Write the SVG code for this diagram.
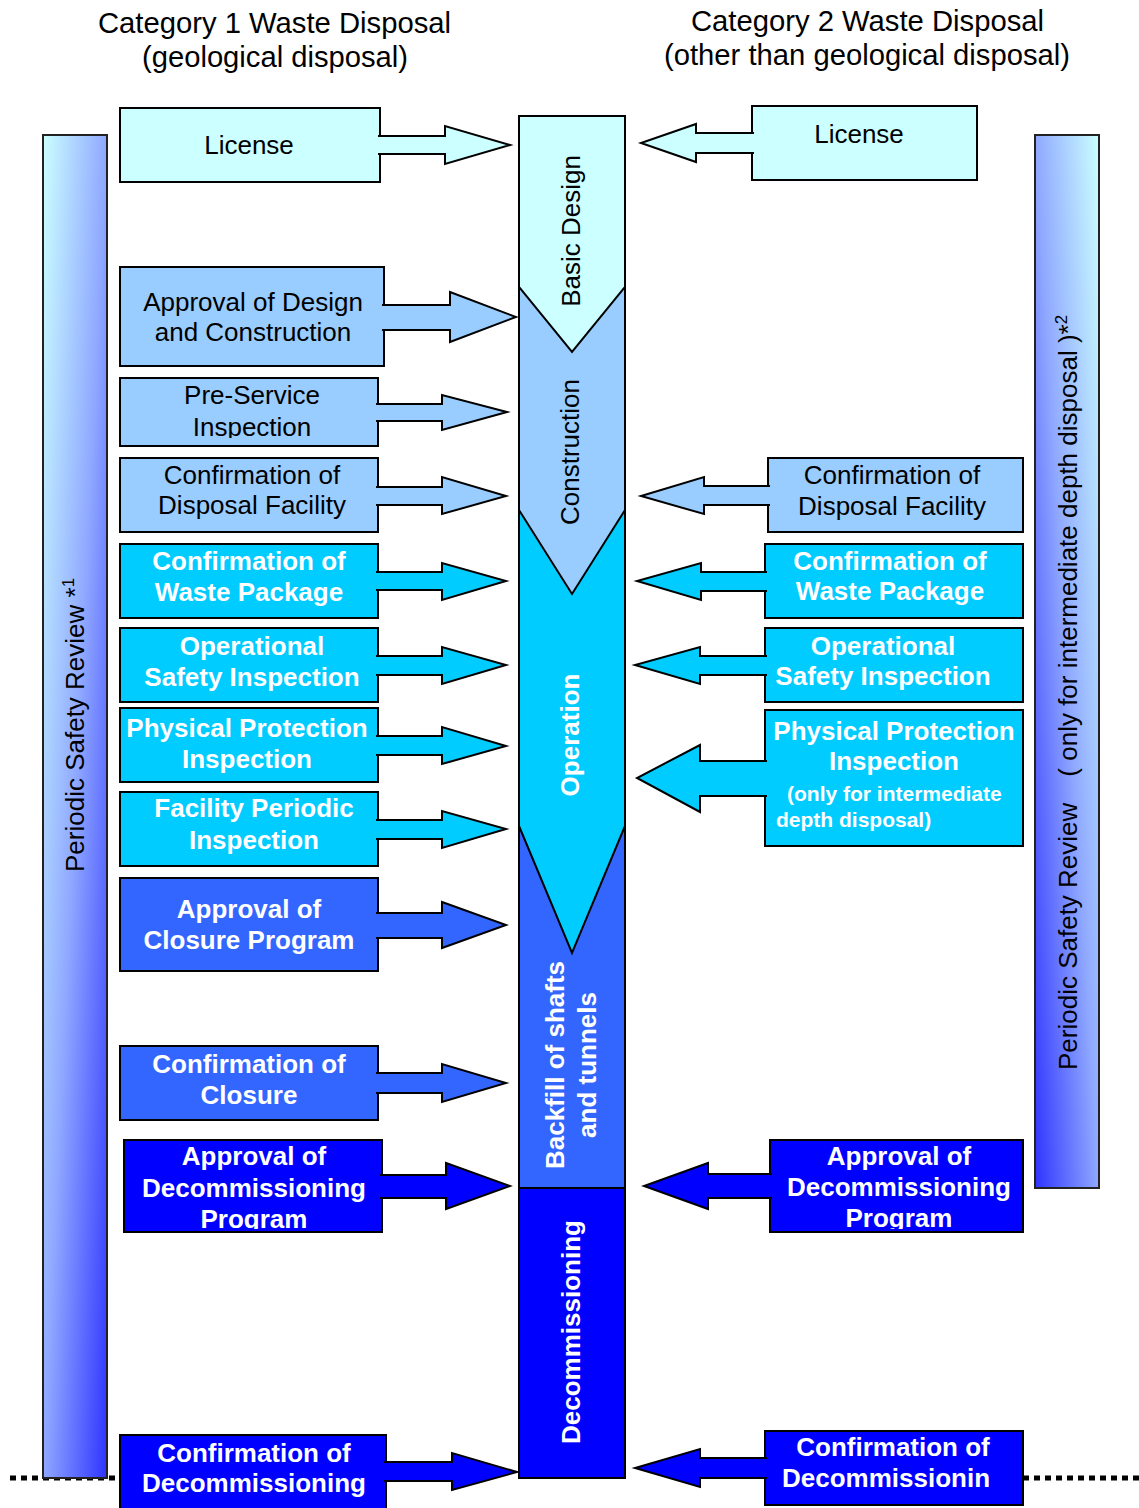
<svg xmlns="http://www.w3.org/2000/svg" width="1139" height="1508" viewBox="0 0 1139 1508">
<defs>
<style>
.bx{stroke:#000;stroke-width:2}
.c1{fill:#ccffff}.c2{fill:#99ccff}.c3{fill:#00ccff}.c4{fill:#3366ff}.c5{fill:#0000ff}
.t{font-family:"Liberation Sans",Arial,sans-serif;font-size:26px;text-anchor:middle;fill:#000}
.tb{font-weight:bold;fill:#fff}
.ttl{font-family:"Liberation Sans",Arial,sans-serif;font-size:30px;text-anchor:middle;fill:#000}
.side{stroke:#222;stroke-width:2}
.arr{stroke:#000;stroke-width:2;stroke-linejoin:miter}
.dot{stroke:#000;stroke-width:5;stroke-dasharray:6 5;fill:none}
</style>
<linearGradient id="gl" x1="0" y1="0" x2="1" y2="1">
<stop offset="0" stop-color="#ccffff"/>
<stop offset="0.5" stop-color="#8fa8ff"/>
<stop offset="1" stop-color="#2f33ff"/>
</linearGradient>
<linearGradient id="gr" x1="1" y1="0" x2="0" y2="1">
<stop offset="0" stop-color="#ccffff"/>
<stop offset="0.5" stop-color="#8fa8ff"/>
<stop offset="1" stop-color="#2f33ff"/>
</linearGradient>
<clipPath id="clipL3"><rect x="120" y="378" width="258" height="60"/></clipPath>
<clipPath id="clipL11"><rect x="124" y="1140" width="258" height="89"/></clipPath>
<clipPath id="clipR6"><rect x="770" y="1140" width="253" height="89"/></clipPath>
</defs>
<rect width="1139" height="1508" fill="#fff"/>

<g id="titles">
<text class="ttl" x="274.5" y="33" textLength="353" lengthAdjust="spacingAndGlyphs">Category 1 Waste Disposal</text>
<text class="ttl" x="275" y="67" textLength="266" lengthAdjust="spacingAndGlyphs">(geological disposal)</text>
<text class="ttl" x="867.5" y="31" textLength="353" lengthAdjust="spacingAndGlyphs">Category 2 Waste Disposal</text>
<text class="ttl" x="867" y="65" textLength="406" lengthAdjust="spacingAndGlyphs">(other than geological disposal)</text>
</g>

<g id="dotted-lines">
<line class="dot" x1="10" y1="1478" x2="120" y2="1478"/>
<line class="dot" x1="1023" y1="1478" x2="1139" y2="1478"/>
</g>

<g id="review-left">
<rect class="side" x="43" y="135" width="64" height="1343" fill="url(#gl)"/>
<text class="t" style="text-anchor:start" transform="translate(84,872) rotate(-90)">Periodic Safety Review *<tspan dy="-10" font-size="17">1</tspan></text>
</g>
<g id="review-right">
<rect class="side" x="1035" y="135" width="64" height="1053" fill="url(#gr)"/>
<text class="t" style="text-anchor:start" transform="translate(1077,1070) rotate(-90)">Periodic Safety Review<tspan dx="26">( only for intermediate depth disposal )*</tspan><tspan dy="-10" font-size="17">2</tspan></text>
</g>

<g id="stages">
<rect class="bx c5" x="519" y="1188" width="106" height="290"/>
<rect class="bx c4" x="519" y="820" width="106" height="368"/>
<polygon class="bx c3" points="519,500 625,500 625,826 572,953 519,826"/>
<polygon class="bx c2" points="519,280 625,280 625,510 572,594 519,510"/>
<polygon class="bx c1" points="519,116 625,116 625,287 572,352 519,287"/>
<text class="t" transform="translate(580,231) rotate(-90)">Basic Design</text>
<text class="t" transform="translate(579,452) rotate(-90)">Construction</text>
<text class="t tb" transform="translate(579,735) rotate(-90)">Operation</text>
<text class="t tb" transform="translate(564,1065) rotate(-90)">Backfill of shafts</text>
<text class="t tb" transform="translate(596,1065) rotate(-90)">and tunnels</text>
<text class="t tb" transform="translate(580,1332) rotate(-90)">Decommissioning</text>
</g>

<g id="L1"><rect class="bx c1" x="120" y="108" width="260" height="74"/><text class="t" x="249" y="154">License</text></g>
<g id="L2"><rect class="bx c2" x="120" y="267" width="264" height="99"/><text class="t" x="253" y="311">Approval of Design</text><text class="t" x="253" y="341">and Construction</text></g>
<g id="L3"><rect class="bx c2" x="120" y="378" width="258" height="68"/><text class="t" x="252" y="404">Pre-Service</text><text class="t" x="252" y="436" clip-path="url(#clipL3)">Inspection</text></g>
<g id="L4"><rect class="bx c2" x="120" y="458" width="258" height="74"/><text class="t" x="252" y="484">Confirmation of</text><text class="t" x="252" y="514">Disposal Facility</text></g>
<g id="L5"><rect class="bx c3" x="120" y="544" width="258" height="74"/><text class="t tb" x="249" y="570">Confirmation of</text><text class="t tb" x="249" y="601">Waste Package</text></g>
<g id="L6"><rect class="bx c3" x="120" y="628" width="258" height="74"/><text class="t tb" x="252" y="655">Operational</text><text class="t tb" x="252" y="686">Safety Inspection</text></g>
<g id="L7"><rect class="bx c3" x="120" y="708" width="258" height="74"/><text class="t tb" x="247" y="737">Physical Protection</text><text class="t tb" x="247" y="768">Inspection</text></g>
<g id="L8"><rect class="bx c3" x="120" y="792" width="258" height="74"/><text class="t tb" x="254" y="817">Facility Periodic</text><text class="t tb" x="254" y="849">Inspection</text></g>
<g id="L9"><rect class="bx c4" x="120" y="878" width="258" height="93"/><text class="t tb" x="249" y="918">Approval of</text><text class="t tb" x="249" y="949">Closure Program</text></g>
<g id="L10"><rect class="bx c4" x="120" y="1046" width="258" height="74"/><text class="t tb" x="249" y="1073">Confirmation of</text><text class="t tb" x="249" y="1104">Closure</text></g>
<g id="L11"><rect class="bx c5" x="124" y="1140" width="258" height="92"/><text class="t tb" x="254" y="1165">Approval of</text><text class="t tb" x="254" y="1197">Decommissioning</text><text class="t tb" x="254" y="1228" clip-path="url(#clipL11)">Program</text></g>
<g id="L12"><rect class="bx c5" x="120" y="1435" width="266" height="80"/><text class="t tb" x="254" y="1462">Confirmation of</text><text class="t tb" x="254" y="1492">Decommissioning</text></g>

<g id="R1"><rect class="bx c1" x="752" y="106" width="225" height="74"/><text class="t" x="859" y="143">License</text></g>
<g id="R2"><rect class="bx c2" x="768" y="458" width="255" height="74"/><text class="t" x="892" y="484">Confirmation of</text><text class="t" x="892" y="515">Disposal Facility</text></g>
<g id="R3"><rect class="bx c3" x="765" y="544" width="258" height="74"/><text class="t tb" x="890" y="570">Confirmation of</text><text class="t tb" x="890" y="600">Waste Package</text></g>
<g id="R4"><rect class="bx c3" x="765" y="628" width="258" height="74"/><text class="t tb" x="883" y="655">Operational</text><text class="t tb" x="883" y="685">Safety Inspection</text></g>
<g id="R5"><rect class="bx c3" x="765" y="710" width="258" height="136"/><text class="t tb" x="894" y="740">Physical Protection</text><text class="t tb" x="894" y="770">Inspection</text><text class="t tb" style="text-anchor:start;font-size:21px" x="787" y="801">(only for intermediate</text><text class="t tb" style="text-anchor:start;font-size:21px" x="776" y="827">depth disposal)</text></g>
<g id="R6"><rect class="bx c5" x="770" y="1140" width="253" height="92"/><text class="t tb" x="899" y="1165">Approval of</text><text class="t tb" x="899" y="1196">Decommissioning</text><text class="t tb" x="899" y="1227" clip-path="url(#clipR6)">Program</text></g>
<g id="R7"><rect class="bx c5" x="765" y="1431" width="258" height="74"/><text class="t tb" x="893" y="1456">Confirmation of</text><text class="t tb" x="886" y="1487">Decommissionin</text></g>

<g id="connectors">
<path class="arr c1" d="M378,136 H445 V126 L510,145 L445,164 V154 H378"/>
<path class="arr c2" d="M382,305 H450 V292 L516,317 L450,342 V330 H382"/>
<path class="arr c2" d="M376,404 H442 V395 L507,412 L442,430 V421 H376"/>
<path class="arr c2" d="M376,487 H442 V477 L506,496 L442,514 V505 H376"/>
<path class="arr c3" d="M376,572 H442 V563 L506,581 L442,600 V590 H376"/>
<path class="arr c3" d="M376,656 H442 V647 L506,665 L442,684 V675 H376"/>
<path class="arr c3" d="M376,736 H442 V727 L506,746 L442,764 V755 H376"/>
<path class="arr c3" d="M376,820 H442 V811 L506,829 L442,848 V839 H376"/>
<path class="arr c4" d="M376,913 H442 V902 L506,925 L442,948 V938 H376"/>
<path class="arr c4" d="M376,1073 H442 V1064 L506,1083 L442,1102 V1093 H376"/>
<path class="arr c5" d="M380,1175 H446 V1163 L510,1186 L446,1209 V1198 H380"/>
<path class="arr c5" d="M384,1462 H452 V1453 L517,1472 L452,1490 V1481 H384"/>
<path class="arr c1" d="M754,133 H696 V124 L641,143 L696,162 V153 H754"/>
<path class="arr c2" d="M770,486 H704 V477 L641,496 L704,514 V505 H770"/>
<path class="arr c3" d="M767,572 H701 V563 L637,581 L701,600 V591 H767"/>
<path class="arr c3" d="M767,656 H700 V647 L635,665 L700,684 V675 H767"/>
<path class="arr c3" d="M767,761 H700 V745 L637,778 L700,812 V796 H767"/>
<path class="arr c5" d="M772,1174 H708 V1163 L644,1186 L708,1209 V1198 H772"/>
<path class="arr c5" d="M767,1458 H700 V1449 L635,1468 L700,1487 V1478 H767"/>
</g>
</svg>
